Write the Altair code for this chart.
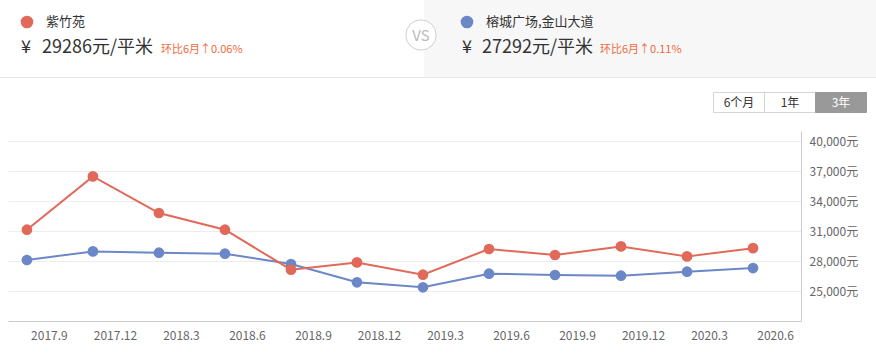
import json
import altair as alt
import pandas as pd

# ---------------- data ----------------
# x positions as month index counted from 2017-01 (0) -> 2017.8 ... 2020.5
month_idx = [7, 10, 13, 16, 19, 22, 25, 28, 31, 34, 37, 40]
zizhuyuan = [31130, 36460, 32800, 31130, 27130, 27860, 26630, 29200, 28600, 29460, 28460, 29286]
rongcheng = [28100, 28960, 28830, 28730, 27700, 25870, 25370, 26730, 26600, 26530, 26930, 27292]
series_names = ["紫竹苑", "榕城广场,金山大道"]
series_colors = ["#e0695a", "#6b87c8"]
tick_idx = [8, 11, 14, 17, 20, 23, 26, 29, 32, 35, 38, 41]
tick_labels = ["2017.9", "2017.12", "2018.3", "2018.6", "2018.9", "2018.12",
               "2019.3", "2019.6", "2019.9", "2019.12", "2020.3", "2020.6"]
y_ticks = [25000, 28000, 31000, 34000, 37000, 40000]
prices = ["29286元/平米", "27292元/平米"]
changes = ["环比6月↑0.06%", "环比6月↑0.11%"]
buttons = ["6个月", "1年", "3年"]

FONT = "Noto Sans CJK SC"

df_red = pd.DataFrame({"m": month_idx, "v": zizhuyuan, "s": series_names[0]})
df_blue = pd.DataFrame({"m": month_idx, "v": rongcheng, "s": series_names[1]})

label_expr = f"{json.dumps(tick_labels, ensure_ascii=False)}[indexof({json.dumps(tick_idx)}, datum.value)]"

x_enc = alt.X("m:Q",
              scale=alt.Scale(domain=[6.14, 42.18], nice=False, zero=False),
              axis=alt.Axis(values=tick_idx, labelExpr=label_expr, grid=False, ticks=False,
                            domainColor="#cccccc", labelColor="#666666", labelFontSize=12,
                            labelFont=FONT, labelPadding=9, title=None, labelFlush=False))
y_enc = alt.Y("v:Q",
              scale=alt.Scale(domain=[22000, 41000], nice=False, zero=False),
              axis=alt.Axis(orient="right", values=y_ticks,
                            labelExpr="format(datum.value, ',') + '元'",
                            grid=True, gridColor="#ececec", ticks=False,
                            domainColor="#cccccc", labelColor="#666666", labelFontSize=12,
                            labelFont=FONT, labelPadding=8, title=None))


def series_layers(df, color):
    base = alt.Chart(df).encode(x=x_enc, y=y_enc)
    line = base.mark_line(color=color, strokeWidth=2)
    pts = base.mark_point(filled=True, color=color, size=115, opacity=1)
    return [line, pts]


one = pd.DataFrame({"a": [0]})

# plot origin is at (8, 131) in page pixels
OX, OY = 8, 131


def txt(text, x, y, size, color, align="left", weight="normal"):
    return alt.Chart(one).mark_text(text=text, align=align, baseline="middle", fontSize=size,
                                    color=color, font=FONT, fontWeight=weight).encode(
        x=alt.value(x - OX), y=alt.value(y - OY))


def rect(x1, x2, y1, y2, fill, stroke=None):
    kw = dict(fill=fill)
    if stroke:
        kw.update(stroke=stroke, strokeWidth=1)
    return alt.Chart(one).mark_rect(**kw).encode(
        x=alt.value(x1 - OX), x2=alt.value(x2 - OX), y=alt.value(y1 - OY), y2=alt.value(y2 - OY))


header = [
    rect(424, 876, 0, 77, "#f7f7f7"),
    alt.Chart(one).mark_rule(color="#e6e6e6", strokeWidth=1).encode(
        x=alt.value(0 - OX), x2=alt.value(876 - OX), y=alt.value(77.5 - OY)),
    alt.Chart(one).mark_point(shape="circle", filled=True, fill="white", stroke="#cfcfcf",
                              strokeWidth=1, size=920, opacity=1).encode(
        x=alt.value(421 - OX), y=alt.value(35 - OY)),
    txt("VS", 421, 36, 15, "#bbbbbb", align="center"),
    alt.Chart(one).mark_point(shape="circle", filled=True, color=series_colors[0], size=160,
                              opacity=1).encode(x=alt.value(27 - OX), y=alt.value(22 - OY)),
    txt(series_names[0], 46, 22, 13, "#333333"),
    txt("¥", 21, 48, 18, "#333333"),
    txt(prices[0], 42, 48, 18, "#333333"),
    txt(changes[0], 161, 50, 11, "#ee6a3c"),
    alt.Chart(one).mark_point(shape="circle", filled=True, color=series_colors[1], size=160,
                              opacity=1).encode(x=alt.value(467 - OX), y=alt.value(22 - OY)),
    txt(series_names[1], 486, 22, 13, "#333333"),
    txt("¥", 462, 48, 18, "#333333"),
    txt(prices[1], 482, 48, 18, "#333333"),
    txt(changes[1], 600, 50, 11, "#ee6a3c"),
    # buttons
    rect(713.5, 764.5, 92.5, 112.5, "white", "#d5d5d5"),
    rect(764.5, 815.5, 92.5, 112.5, "white", "#d5d5d5"),
    rect(815.5, 866.5, 92.5, 112.5, "#999999", "#999999"),
    txt(buttons[0], 739, 103, 12, "#333333", align="center"),
    txt(buttons[1], 790, 103, 12, "#333333", align="center"),
    txt(buttons[2], 841, 103, 12, "#ffffff", align="center"),
]

layers = series_layers(df_blue, series_colors[1]) + series_layers(df_red, series_colors[0]) + header

chart = alt.layer(*layers).properties(
    width=793, height=190,
    padding={"left": OX, "top": OY, "right": 876 - OX - 793, "bottom": 355 - OY - 190},
    autosize=alt.AutoSizeParams(type="none"),
    background="white",
).configure_view(stroke=None)

chart.save("out.html", embed_options={"renderer": "svg", "actions": False})
